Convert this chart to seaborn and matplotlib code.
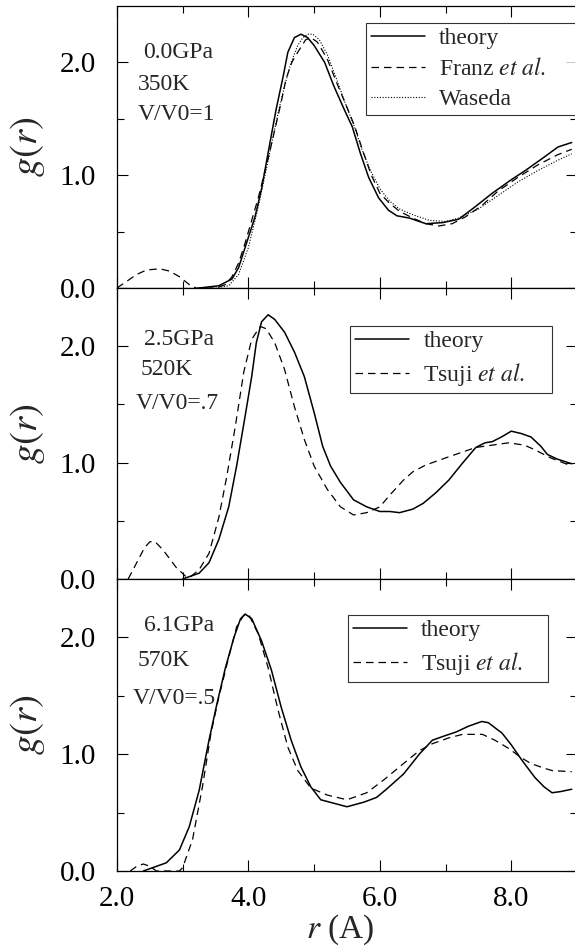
import numpy as np
import pandas as pd
import matplotlib
matplotlib.use("Agg")
import matplotlib.pyplot as plt
import seaborn as sns

# ---- data ----
top_theory_r = [3.25, 3.55, 3.75, 3.85, 3.95, 4.1, 4.2, 4.3, 4.42, 4.53, 4.6, 4.7, 4.8, 4.9, 5.0, 5.16,
                5.3, 5.46, 5.58, 5.7, 5.83, 5.98, 6.13, 6.26, 6.45, 6.7, 6.96, 7.2, 7.45, 7.71, 8.0,
                8.21, 8.5, 8.71, 8.92]
top_theory_g = [0.0, 0.02, 0.08, 0.18, 0.36, 0.63, 0.88, 1.2, 1.58, 1.88, 2.09, 2.22, 2.25, 2.22, 2.15, 2.0,
                1.79, 1.58, 1.43, 1.2, 0.98, 0.80, 0.69, 0.64, 0.62, 0.57, 0.58, 0.61, 0.72, 0.84, 0.96,
                1.04, 1.16, 1.25, 1.29]

top_franz_r = [2.0, 2.15, 2.3, 2.45, 2.65, 2.8, 2.95, 3.1, 3.2, 3.5, 3.65, 3.75, 3.85, 3.95, 4.05, 4.15,
               4.28, 4.4, 4.5, 4.57, 4.66, 4.75, 4.87, 4.95, 5.05, 5.2, 5.35, 5.5, 5.62, 5.75, 5.87,
               6.0, 6.15, 6.3, 6.5, 6.7, 6.9, 7.1, 7.3, 7.55, 7.8, 8.1, 8.4, 8.7, 8.92]
top_franz_g = [0.0, 0.06, 0.12, 0.16, 0.17, 0.15, 0.1, 0.03, 0.0, 0.0, 0.03, 0.1, 0.22, 0.4, 0.6, 0.8,
               1.1, 1.4, 1.65, 1.85, 2.0, 2.09, 2.2, 2.22, 2.18, 2.03, 1.81, 1.6, 1.43, 1.2, 1.0,
               0.84, 0.75, 0.68, 0.62, 0.57, 0.55, 0.57, 0.63, 0.73, 0.86, 0.98, 1.09, 1.18, 1.23]

top_waseda_r = [3.5, 3.7, 3.85, 4.0, 4.15, 4.3, 4.45, 4.55, 4.65, 4.75, 4.83, 4.9, 4.98, 5.08, 5.2, 5.33,
                5.46, 5.6, 5.72, 5.85, 6.0, 6.15, 6.3, 6.5, 6.75, 7.0, 7.2, 7.5, 7.8, 8.1, 8.4, 8.7, 8.92]
top_waseda_g = [0.0, 0.02, 0.12, 0.36, 0.72, 1.13, 1.55, 1.79, 2.0, 2.15, 2.22, 2.25, 2.25, 2.2, 2.07, 1.87,
                1.66, 1.45, 1.24, 1.05, 0.88, 0.77, 0.70, 0.65, 0.60, 0.59, 0.62, 0.70, 0.82, 0.94, 1.04,
                1.13, 1.19]

mid_theory_r = [3.0, 3.25, 3.4, 3.55, 3.7, 3.82, 3.95, 4.05, 4.12, 4.2, 4.3, 4.4, 4.55, 4.7, 4.85, 5.0,
                5.13, 5.25, 5.4, 5.6, 5.8, 6.0, 6.15, 6.3, 6.5, 6.66, 6.85, 7.05, 7.25, 7.46, 7.6,
                7.71, 7.85, 8.0, 8.15, 8.3, 8.45, 8.55, 8.7, 8.92]
mid_theory_g = [0.0, 0.05, 0.14, 0.34, 0.62, 0.97, 1.40, 1.74, 2.03, 2.21, 2.27, 2.23, 2.12, 1.95, 1.74, 1.43,
                1.14, 0.97, 0.83, 0.68, 0.62, 0.58, 0.58, 0.57, 0.60, 0.65, 0.74, 0.85, 0.99, 1.13, 1.17,
                1.18, 1.22, 1.27, 1.25, 1.22, 1.14, 1.07, 1.03, 0.99]

mid_tsuji_r = [2.17, 2.3, 2.42, 2.5, 2.58, 2.7, 2.9, 3.05, 3.12, 3.25, 3.4, 3.55, 3.67, 3.8, 3.93, 4.05,
               4.18, 4.27, 4.4, 4.55, 4.7, 4.85, 5.0, 5.2, 5.4, 5.6, 5.8, 6.0, 6.15, 6.36, 6.5, 6.7,
               7.05, 7.46, 7.96, 8.2, 8.36, 8.6, 8.92]
mid_tsuji_g = [0.0, 0.14, 0.27, 0.32, 0.32, 0.25, 0.1, 0.02, 0.02, 0.08, 0.22, 0.53, 0.88, 1.31, 1.78, 2.06,
               2.17, 2.15, 2.03, 1.8, 1.48, 1.2, 0.97, 0.77, 0.62, 0.55, 0.57, 0.62, 0.72, 0.85, 0.92, 0.98,
               1.05, 1.13, 1.17, 1.15, 1.11, 1.04, 0.97]

bot_theory_r = [2.4, 2.5, 2.75, 2.95, 3.1, 3.25, 3.4, 3.52, 3.65, 3.78, 3.88, 3.95, 4.05, 4.2, 4.35, 4.5,
                4.65, 4.8, 4.95, 5.1, 5.3, 5.5, 5.76, 5.95, 6.1, 6.36, 6.6, 6.8, 7.0, 7.16, 7.35,
                7.55, 7.65, 7.86, 8.0, 8.16, 8.36, 8.5, 8.62, 8.75, 8.92]
bot_theory_g = [0.0, 0.02, 0.07, 0.18, 0.38, 0.69, 1.12, 1.43, 1.74, 2.0, 2.16, 2.2, 2.16, 1.97, 1.72, 1.4,
                1.12, 0.89, 0.72, 0.61, 0.58, 0.55, 0.59, 0.63, 0.7, 0.83, 1.0, 1.12, 1.16, 1.19, 1.24,
                1.28, 1.27, 1.18, 1.08, 0.95, 0.80, 0.72, 0.67, 0.68, 0.70]

bot_tsuji_r = [2.2, 2.3, 2.4, 2.5, 2.6, 2.95, 3.0, 3.15, 3.3, 3.43, 3.55, 3.7, 3.82, 3.93, 4.0, 4.15,
               4.3, 4.45, 4.6, 4.75, 4.95, 5.2, 5.5, 5.8, 6.06, 6.36, 6.6, 6.8, 7.05, 7.26, 7.56,
               7.75, 7.96, 8.15, 8.3, 8.5, 8.62, 8.92]
bot_tsuji_g = [0.0, 0.04, 0.06, 0.04, 0.0, 0.0, 0.03, 0.27, 0.72, 1.18, 1.49, 1.83, 2.09, 2.19, 2.2, 2.03,
               1.74, 1.38, 1.06, 0.86, 0.71, 0.65, 0.61, 0.67, 0.78, 0.92, 1.03, 1.09, 1.14, 1.17, 1.17,
               1.12, 1.05, 0.97, 0.92, 0.88, 0.86, 0.85]

panel_labels = [["0.0GPa", "350K", "V/V0=1"],
                ["2.5GPa", "520K", "V/V0=.7"],
                ["6.1GPa", "570K", "V/V0=.5"]]

sns.set_style("ticks")
plt.rcParams["font.family"] = ["Liberation Serif", "DejaVu Serif"]
plt.rcParams["mathtext.fontset"] = "stix"

W, H = 575, 951
fig = plt.figure(figsize=(W / 100, H / 100), dpi=100)


def px_axes(top, bottom, left=117, right=577):
    return fig.add_axes([left / W, (H - bottom) / H, (right - left) / W, (bottom - top) / H])


ax_top = px_axes(6, 288)
ax_mid = px_axes(288, 579)
ax_bot = px_axes(579, 871)

solid = dict(color="black", linewidth=1.1)
dashed = dict(color="black", linewidth=0.9, dashes=(6, 4))
dotted = dict(color="black", linewidth=0.8, dashes=(1, 1.5))

sns.lineplot(x=top_theory_r, y=top_theory_g, ax=ax_top, label="theory", **solid)
sns.lineplot(x=top_franz_r, y=top_franz_g, ax=ax_top, label=r"Franz $\mathit{et\ al.}$", **dashed)
sns.lineplot(x=top_waseda_r, y=top_waseda_g, ax=ax_top, label="Waseda", **dotted)

sns.lineplot(x=mid_theory_r, y=mid_theory_g, ax=ax_mid, label="theory", **solid)
sns.lineplot(x=mid_tsuji_r, y=mid_tsuji_g, ax=ax_mid, label=r"Tsuji $\mathit{et\ al.}$", **dashed)

sns.lineplot(x=bot_theory_r, y=bot_theory_g, ax=ax_bot, label="theory", **solid)
sns.lineplot(x=bot_tsuji_r, y=bot_tsuji_g, ax=ax_bot, label=r"Tsuji $\mathit{et\ al.}$", **dashed)

# legend boxes (x0, width, top) in axes fraction
legend_box = [(0.541, 0.47, 0.94), (0.507, 0.439, 0.869), (0.502, 0.435, 0.877)]
text_pos = [[(2.39, 2.09), (2.32, 1.80), (2.32, 1.54)],
            [(2.41, 2.06), (2.36, 1.80), (2.29, 1.51)],
            [(2.41, 2.10), (2.32, 1.80), (2.24, 1.48)]]

for i, ax in enumerate([ax_top, ax_mid, ax_bot]):
    ax.set_xlim(2.0, 8.92)
    ax.set_ylim(0.0, 2.5)
    ax.set_xticks([2.0, 4.0, 6.0, 8.0])
    ax.set_xticks([3.0, 5.0, 7.0, 9.0], minor=True)
    ax.set_yticks([0.0, 1.0, 2.0])
    ax.set_yticks([0.5, 1.5], minor=True)
    ax.set_yticklabels(["0.0", "1.0", "2.0"])
    ax.tick_params(which="both", direction="in", top=True, right=True, width=0.8, colors="black")
    ax.tick_params(which="major", length=8)
    ax.tick_params(which="minor", length=5)
    ax.tick_params(axis="y", labelsize=21, pad=15)
    ax.tick_params(axis="x", labelsize=21, pad=11)
    for s in ax.spines.values():
        s.set_linewidth(0.9)
        s.set_color("black")
    if i < 2:
        ax.set_xticklabels([])
    else:
        ax.set_xticklabels(["2.0", "4.0", "6.0", "8.0"])
    ax.set_xlabel(r"$r$ (A)" if i == 2 else "", fontsize=24)
    ax.set_ylabel(r"$g(r)$", fontsize=28)
    ax.yaxis.set_label_coords(-0.152, 0.5)
    for txt, (tx, ty) in zip(panel_labels[i], text_pos[i]):
        ax.text(tx, ty, txt, fontsize=17, va="center", ha="left")
    x0, w, top = legend_box[i]
    leg = ax.legend(loc="upper left", bbox_to_anchor=(x0, 0.0, w, top), mode="expand", fontsize=17,
                    frameon=True, fancybox=False, handlelength=2.3, borderpad=0.2, labelspacing=0.37,
                    handletextpad=0.6, borderaxespad=0)
    leg.get_frame().set_edgecolor("black")
    leg.get_frame().set_linewidth(0.8)

ax_bot.xaxis.label.set_va("center")
ax_bot.xaxis.set_label_coords(0.485, -0.202)

fig.savefig("out.png", dpi=100)
